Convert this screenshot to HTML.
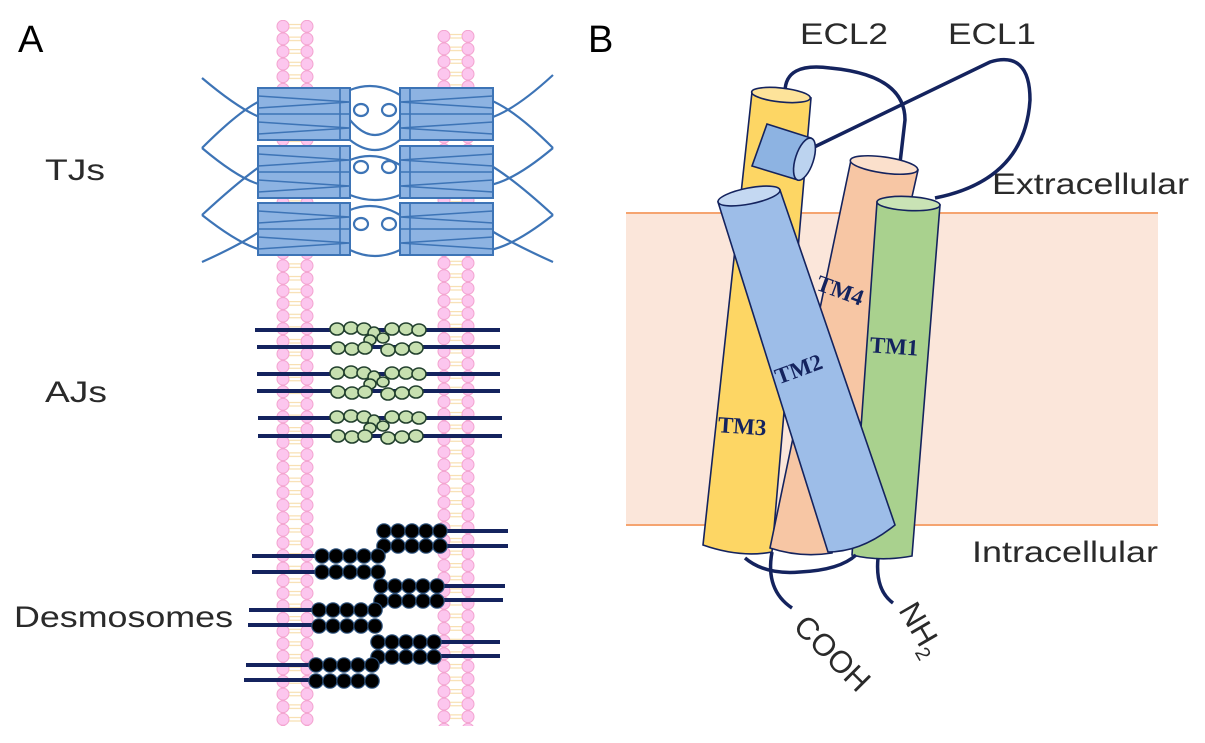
<!DOCTYPE html>
<html><head><meta charset="utf-8"><style>
html,body{margin:0;padding:0;background:#fff;}
svg{display:block;font-family:"Liberation Sans",sans-serif;}
</style></head><body>
<svg width="1205" height="743" viewBox="0 0 1205 743" xmlns="http://www.w3.org/2000/svg">
<defs>
<pattern id="mem" patternUnits="userSpaceOnUse" x="276" y="20" width="40" height="12.6">
<circle cx="7" cy="6.3" r="6" fill="#fcc6ee" stroke="#f3a3cf" stroke-width="1"/>
<circle cx="31" cy="6.3" r="6" fill="#fcc6ee" stroke="#f3a3cf" stroke-width="1"/>
<line x1="13" y1="4.5" x2="25" y2="4.5" stroke="#f6d9a0" stroke-width="1"/>
<line x1="13" y1="8" x2="25" y2="8" stroke="#f6d9a0" stroke-width="1"/>
</pattern>
<pattern id="mem2" patternUnits="userSpaceOnUse" x="437" y="30" width="40" height="12.6">
<circle cx="7" cy="6.3" r="6" fill="#fcc6ee" stroke="#f3a3cf" stroke-width="1"/>
<circle cx="31" cy="6.3" r="6" fill="#fcc6ee" stroke="#f3a3cf" stroke-width="1"/>
<line x1="13" y1="4.5" x2="25" y2="4.5" stroke="#f6d9a0" stroke-width="1"/>
<line x1="13" y1="8" x2="25" y2="8" stroke="#f6d9a0" stroke-width="1"/>
</pattern>
<g id="tjL">
<rect x="258" y="0" width="92" height="52" fill="#8db3e2" stroke="#3d74b6" stroke-width="2"/>
<path d="M258 8 L350 14 M258 20 L350 14 M258 26 L350 26 M258 34 L350 40 M258 46 L350 40 M340 0 L340 52" stroke="#3d74b6" stroke-width="1.6" fill="none"/>
</g>
<g id="tjR">
<rect x="400" y="0" width="93" height="52" fill="#8db3e2" stroke="#3d74b6" stroke-width="2"/>
<path d="M493 8 L400 14 M493 20 L400 14 M493 26 L400 26 M493 34 L400 40 M493 46 L400 40 M410 0 L410 52" stroke="#3d74b6" stroke-width="1.6" fill="none"/>
</g>
</defs>

<text x="18" y="52" font-size="38">A</text>
<text x="588" y="52" font-size="38">B</text>

<rect x="276" y="20" width="40" height="706" fill="url(#mem)"/>
<rect x="437" y="30" width="40" height="696" fill="url(#mem2)"/>

<g stroke="#3d74b6" stroke-width="2.2" fill="none">
<path d="M202 78 Q240 110 262 118 M202 148 Q240 110 262 100 M202 148 Q240 180 262 185 M202 215 Q240 180 262 165 M202 215 Q240 245 262 250 M202 262 Q240 245 262 230"/>
<path d="M553 75 Q515 110 490 118 M553 148 Q515 110 490 100 M553 148 Q515 180 490 185 M553 215 Q515 180 490 165 M553 215 Q515 245 490 250 M553 262 Q515 245 490 230"/>
<path d="M350 90 Q375 80 400 95 M350 120 Q375 150 400 120 M350 140 Q375 160 400 140 M350 160 Q375 150 400 165 M350 195 Q375 205 400 195 M350 210 Q375 200 400 215 M350 250 Q375 262 400 250"/>
<ellipse cx="361" cy="110" rx="7" ry="6"/><ellipse cx="389" cy="110" rx="7" ry="6"/>
<ellipse cx="361" cy="167" rx="7" ry="6"/><ellipse cx="389" cy="167" rx="7" ry="6"/>
<ellipse cx="361" cy="224" rx="7" ry="6"/><ellipse cx="389" cy="224" rx="7" ry="6"/>
</g>
<use href="#tjL" y="88"/><use href="#tjL" y="146"/><use href="#tjL" y="203"/>
<use href="#tjR" y="88"/><use href="#tjR" y="146"/><use href="#tjR" y="203"/>

<g fill="#2a2a2a" font-size="30">
<text x="45" y="180" textLength="60" lengthAdjust="spacingAndGlyphs">TJs</text>
<text x="45" y="402" textLength="62" lengthAdjust="spacingAndGlyphs">AJs</text>
<text x="14" y="627" textLength="219" lengthAdjust="spacingAndGlyphs">Desmosomes</text>
</g>

<g stroke="#14235e" stroke-width="4">
<line x1="255" y1="330" x2="500" y2="330"/><line x1="257" y1="347" x2="500" y2="347"/>
<line x1="257" y1="374" x2="500" y2="374"/><line x1="257" y1="391" x2="500" y2="391"/>
<line x1="258" y1="418" x2="502" y2="418"/><line x1="258" y1="436" x2="502" y2="436"/>
</g>
<g fill="#c7e0b0" stroke="#22402e" stroke-width="1.6">
<g id="aj">
<ellipse cx="337" cy="329" rx="7" ry="6"/><ellipse cx="351" cy="328" rx="7" ry="6"/><ellipse cx="364" cy="329" rx="7" ry="6"/><ellipse cx="374" cy="333" rx="6" ry="6"/>
<ellipse cx="392" cy="329" rx="7" ry="6"/><ellipse cx="406" cy="329" rx="7" ry="6"/><ellipse cx="419" cy="330" rx="7" ry="6"/>
<ellipse cx="370" cy="340" rx="6" ry="5"/><ellipse cx="383" cy="338" rx="6" ry="5"/>
<ellipse cx="338" cy="348" rx="7" ry="6"/><ellipse cx="352" cy="349" rx="7" ry="6"/><ellipse cx="365" cy="348" rx="7" ry="6"/>
<ellipse cx="388" cy="350" rx="7" ry="6"/><ellipse cx="402" cy="349" rx="7" ry="6"/><ellipse cx="416" cy="348" rx="7" ry="6"/>
</g>
<use href="#aj" y="44"/><use href="#aj" y="88"/>
</g>

<g stroke="#14235e" stroke-width="4">
<line x1="440" y1="531" x2="508" y2="531"/><line x1="440" y1="546" x2="508" y2="546"/>
<line x1="252" y1="556" x2="318" y2="556"/><line x1="252" y1="572" x2="318" y2="572"/>
<line x1="436" y1="586" x2="505" y2="586"/><line x1="436" y1="600" x2="503" y2="600"/>
<line x1="249" y1="610" x2="315" y2="610"/><line x1="248" y1="625" x2="315" y2="625"/>
<line x1="434" y1="642" x2="500" y2="642"/><line x1="434" y1="656" x2="500" y2="656"/>
<line x1="246" y1="665" x2="312" y2="665"/><line x1="244" y1="680" x2="312" y2="680"/>
</g>
<g fill="#000" stroke="#2a4f7a" stroke-width="1.2">
<g id="dr"><circle cx="384" cy="531" r="7.2"/><circle cx="398" cy="531" r="7.2"/><circle cx="412" cy="531" r="7.2"/><circle cx="426" cy="531" r="7.2"/><circle cx="440" cy="531" r="7.2"/>
<circle cx="384" cy="546" r="7.2"/><circle cx="398" cy="546" r="7.2"/><circle cx="412" cy="546" r="7.2"/><circle cx="426" cy="546" r="7.2"/><circle cx="440" cy="546" r="7.2"/></g>
<g id="dl"><circle cx="322" cy="556" r="7.2"/><circle cx="336" cy="556" r="7.2"/><circle cx="350" cy="556" r="7.2"/><circle cx="364" cy="556" r="7.2"/><circle cx="378" cy="556" r="7.2"/>
<circle cx="322" cy="572" r="7.2"/><circle cx="336" cy="572" r="7.2"/><circle cx="350" cy="572" r="7.2"/><circle cx="364" cy="572" r="7.2"/><circle cx="378" cy="572" r="7.2"/></g>
<use href="#dr" x="-3" y="55"/><use href="#dr" x="-6" y="111"/>
<use href="#dl" x="-3" y="54"/><use href="#dl" x="-6" y="109"/>
</g>

<rect x="626" y="213" width="532" height="312" fill="#fbe6da"/>
<line x1="626" y1="213" x2="1158" y2="213" stroke="#f5a470" stroke-width="2"/>
<line x1="626" y1="525" x2="1158" y2="525" stroke="#f5a470" stroke-width="2"/>
<g fill="#2a2a2a" font-size="30">
<text x="992" y="194" textLength="197" lengthAdjust="spacingAndGlyphs">Extracellular</text>
<text x="972" y="562" textLength="186" lengthAdjust="spacingAndGlyphs">Intracellular</text>
<text x="800" y="44" textLength="88" lengthAdjust="spacingAndGlyphs">ECL2</text>
<text x="948" y="44" textLength="88" lengthAdjust="spacingAndGlyphs">ECL1</text>
</g>

<g stroke="#14235e" stroke-width="3.5" fill="none">
<path d="M785 92 Q785 62 830 68 Q905 75 905 120 L900 163"/>
<path d="M808 150 L990 62 Q1030 50 1030 100 Q1025 180 935 198"/>
<path d="M766 166 Q748 178 746 193"/>
</g>

<g stroke="#14235e" stroke-width="1.6">
<path d="M752 92 L811 98 L772 552 Q740 558 703 545 Z" fill="#fdd664"/>
<ellipse cx="781" cy="95" rx="29.5" ry="7" transform="rotate(6 781 95)" fill="#fde39a"/>
<path d="M851 160 L918 170 L832 553 Q800 558 770 548 Z" fill="#f7c6a4"/>
<ellipse cx="884" cy="165" rx="34" ry="8" transform="rotate(8 884 165)" fill="#fbe0cc"/>
<path d="M877 202 L940 205 L912 556 Q880 562 852 555 Z" fill="#a9d18e"/>
<ellipse cx="908.5" cy="203.5" rx="31.5" ry="7" transform="rotate(3 908 203)" fill="#c9e3b5"/>
<path d="M767 124 L811 138 L798 180 L752 166 Z" fill="#8db3e2"/>
<ellipse cx="804.5" cy="159" rx="9" ry="22" transform="rotate(18 804 159)" fill="#bcd3ef"/>
<path d="M718 202 L780 190 L895 525 Q862 552 828 552 Z" fill="#9dbde8"/>
<ellipse cx="749" cy="196" rx="31.5" ry="8" transform="rotate(-11 749 196)" fill="#c4d8f2"/>
</g>

<g stroke="#14235e" stroke-width="3.5" fill="none">
<path d="M745 558 Q765 575 800 572 Q840 570 856 555"/>
<path d="M772 552 Q765 590 792 608"/>
<path d="M878 558 Q875 590 893 603"/>
</g>

<g font-family="Liberation Serif,serif" font-weight="bold" font-size="23" fill="#14235e">
<text x="718" y="434" transform="rotate(4 745 425)">TM3</text>
<text x="816" y="298" transform="rotate(20 840 290)">TM4</text>
<text x="870" y="354" transform="rotate(4 895 345)">TM1</text>
<text x="773" y="376" transform="rotate(-20 800 365)">TM2</text>
</g>
<text x="792" y="628" font-size="31" fill="#2a2a2a" transform="rotate(45 792 628)">COOH</text>
<text x="898" y="610" font-size="31" fill="#2a2a2a" transform="rotate(60 898 610)">NH<tspan font-size="20" dy="7">2</tspan></text>
</svg>
</body></html>
